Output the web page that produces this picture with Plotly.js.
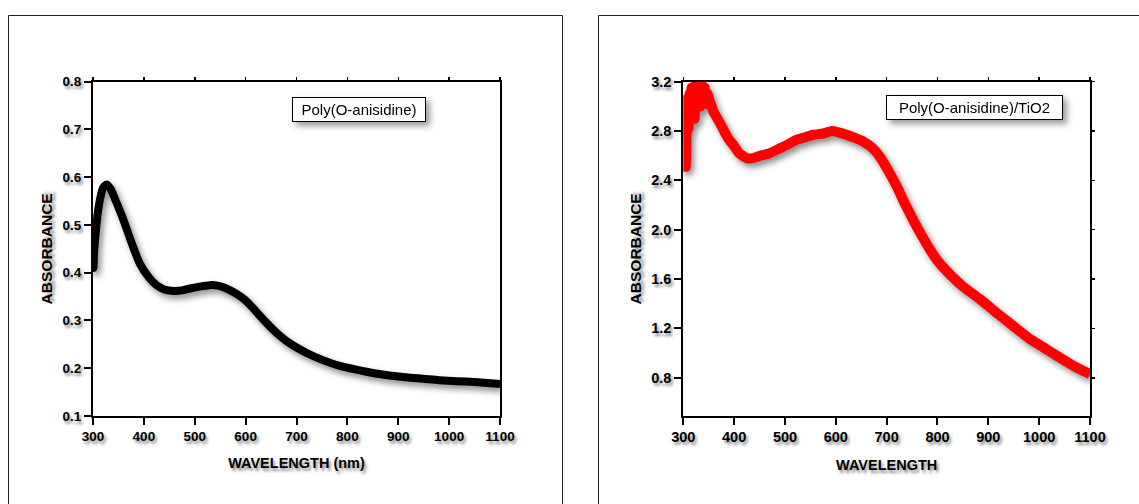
<!DOCTYPE html>
<html>
<head>
<meta charset="utf-8">
<script src="https://cdn.plot.ly/plotly-3.0.1.min.js"></script>
<style>
  html, body { margin: 0; padding: 0; background: #ffffff; }
  #chart { width: 1139px; height: 504px; }
  .js-plotly-plot .scatterlayer .trace { filter: drop-shadow(3px 4px 3px rgba(0,0,0,0.45)); }
  .js-plotly-plot .annotation { filter: drop-shadow(4px 4px 3px rgba(0,0,0,0.4)); }
</style>
</head>
<body>
<div id="chart"></div>
<script>
// ---- Data: Poly(O-anisidine) ----
const wavelengthPOA = [300, 301, 302, 305, 310, 315, 320, 327, 335, 345, 360, 375, 392, 410, 425, 440, 458, 475, 491, 510, 530, 545, 560, 575, 590, 605, 622, 640, 660, 687, 720, 752, 785, 818, 850, 883, 915, 949, 980, 1014, 1050, 1075, 1100];
const absorbancePOA = [0.42, 0.41, 0.44, 0.48, 0.53, 0.56, 0.578, 0.585, 0.575, 0.55, 0.51, 0.465, 0.419, 0.39, 0.374, 0.365, 0.362, 0.363, 0.367, 0.371, 0.374, 0.373, 0.368, 0.36, 0.35, 0.337, 0.317, 0.296, 0.275, 0.252, 0.232, 0.217, 0.205, 0.197, 0.19, 0.185, 0.181, 0.178, 0.175, 0.173, 0.171, 0.169, 0.167];

// ---- Data: Poly(O-anisidine)/TiO2 ----
const wavelengthPOAT = [300, 301, 302, 303, 304, 305, 306, 307, 308, 310, 312, 314, 316, 318, 320, 322, 324, 327, 330, 333, 336, 339, 342, 345, 348, 352, 356, 359, 370, 379, 390, 398, 410, 425, 437, 451, 470, 490, 505, 523, 540, 556, 575, 592, 605, 621, 640, 654, 670, 687, 703, 720, 736, 752, 768, 785, 800, 818, 850, 884, 915, 949, 980, 1015, 1050, 1075, 1100];
const absorbancePOAT = [2.90, 3.05, 2.78, 2.95, 2.68, 2.51, 2.72, 2.85, 3.00, 2.82, 3.10, 2.90, 3.15, 2.95, 3.12, 2.90, 3.18, 3.02, 3.15, 3.00, 3.18, 3.05, 3.15, 3.02, 3.10, 3.04, 3.00, 2.96, 2.88, 2.81, 2.73, 2.69, 2.62, 2.58, 2.58, 2.60, 2.62, 2.66, 2.69, 2.73, 2.75, 2.77, 2.78, 2.80, 2.79, 2.77, 2.74, 2.715, 2.67, 2.59, 2.48, 2.35, 2.21, 2.08, 1.96, 1.84, 1.75, 1.665, 1.54, 1.436, 1.33, 1.22, 1.12, 1.03, 0.94, 0.88, 0.83];

// ---- Tick labels ----
const xTicks = [300, 400, 500, 600, 700, 800, 900, 1000, 1100];
const yTicksLeft = [0.1, 0.2, 0.3, 0.4, 0.5, 0.6, 0.7, 0.8];
const yTicksLeftText = ['0.1', '0.2', '0.3', '0.4', '0.5', '0.6', '0.7', '0.8'];
const yTicksRight = [0.8, 1.2, 1.6, 2.0, 2.4, 2.8, 3.2];
const yTicksRightText = ['0.8', '1.2', '1.6', '2.0', '2.4', '2.8', '3.2'];

const W = 1139, H = 504;
const FAM = 'Liberation Sans, Arial, sans-serif';
const SHADOW = '2px 3px 3px rgba(0,0,0,0.45)';

function axisBase(size) {
  return {
    showgrid: false, zeroline: false, showline: true,
    linecolor: '#000', linewidth: 2,
    ticks: 'outside', ticklen: 7, tickwidth: 2, tickcolor: '#000',
    mirror: true,
    tickfont: { family: FAM, size: size, color: '#000', weight: 'bold', shadow: SHADOW },
    fixedrange: true
  };
}
function minorMirror(extra) {
  return Object.assign({
    showgrid: false, zeroline: false, showline: false, showticklabels: false,
    ticks: 'outside', ticklen: 4, tickwidth: 1.5, tickcolor: '#000', fixedrange: true
  }, extra);
}

const traces = [
  { x: wavelengthPOA, y: absorbancePOA, xaxis: 'x', yaxis: 'y', mode: 'lines',
    line: { color: '#000000', width: 8, shape: 'spline', smoothing: 0.6 }, showlegend: false, hoverinfo: 'skip' },
  { x: wavelengthPOAT, y: absorbancePOAT, xaxis: 'x2', yaxis: 'y2', mode: 'lines',
    line: { color: '#ff0000', width: 10, shape: 'spline', smoothing: 0.5 }, showlegend: false, hoverinfo: 'skip' },
  // invisible carriers so the mirror-tick axes are drawn
  { x: wavelengthPOA, y: absorbancePOA, xaxis: 'x3', yaxis: 'y', mode: 'none', showlegend: false, hoverinfo: 'skip' },
  { x: wavelengthPOAT, y: absorbancePOAT, xaxis: 'x4', yaxis: 'y2', mode: 'none', showlegend: false, hoverinfo: 'skip' },
  { x: wavelengthPOAT, y: absorbancePOAT, xaxis: 'x2', yaxis: 'y3', mode: 'none', showlegend: false, hoverinfo: 'skip' }
];

const yDom = [(H - 416) / H, (H - 81.7) / H];

const layout = {
  width: W, height: H,
  margin: { l: 0, r: 0, t: 0, b: 0 },
  paper_bgcolor: '#ffffff', plot_bgcolor: '#ffffff',
  showlegend: false,
  xaxis: Object.assign(axisBase(13.5), {
    domain: [93 / W, 500 / W], range: [300, 1100], tickvals: xTicks, anchor: 'y',
    title: { text: 'WAVELENGTH (nm)', standoff: 15, font: { family: FAM, size: 14.5, color: '#000', weight: 'bold', shadow: SHADOW } }
  }),
  yaxis: Object.assign(axisBase(13.5), {
    domain: yDom, range: [0.1, 0.8], tickvals: yTicksLeft, ticktext: yTicksLeftText, anchor: 'x',
    title: { text: 'ABSORBANCE', standoff: 6, font: { family: FAM, size: 15.5, color: '#000', weight: 'bold', shadow: SHADOW } }
  }),
  xaxis2: Object.assign(axisBase(14.5), {
    domain: [683.3 / W, 1090 / W], range: [300, 1100], tickvals: xTicks, anchor: 'y2',
    title: { text: 'WAVELENGTH', standoff: 15, font: { family: FAM, size: 14.5, color: '#000', weight: 'bold', shadow: SHADOW } }
  }),
  yaxis2: Object.assign(axisBase(14.5), {
    domain: yDom, range: [0.49, 3.2], tickvals: yTicksRight, ticktext: yTicksRightText, anchor: 'x2',
    title: { text: 'ABSORBANCE', standoff: 6, font: { family: FAM, size: 15.5, color: '#000', weight: 'bold', shadow: SHADOW } }
  }),
  xaxis3: minorMirror({ overlaying: 'x', side: 'top', anchor: 'y', range: [300, 1100], tickvals: xTicks }),
  xaxis4: minorMirror({ overlaying: 'x2', side: 'top', anchor: 'y2', range: [300, 1100], tickvals: xTicks }),
  yaxis3: minorMirror({ overlaying: 'y2', side: 'right', anchor: 'x2', range: [0.49, 3.2], tickvals: yTicksRight }),
  shapes: [
    { type: 'rect', xref: 'paper', yref: 'paper', x0: 8.5 / W, x1: 562.5 / W, y0: -0.1, y1: (H - 15.5) / H,
      line: { color: '#222', width: 1 }, fillcolor: 'rgba(0,0,0,0)', layer: 'below' },
    { type: 'rect', xref: 'paper', yref: 'paper', x0: 598.5 / W, x1: 1.1, y0: -0.1, y1: (H - 15.5) / H,
      line: { color: '#222', width: 1 }, fillcolor: 'rgba(0,0,0,0)', layer: 'below' }
  ],
  annotations: [
    { xref: 'paper', yref: 'paper', x: 358.8 / W, y: (H - 109) / H, xanchor: 'center', yanchor: 'middle',
      text: 'Poly(O-anisidine)', showarrow: false, width: 130, height: 21, borderpad: 1,
      bordercolor: '#000', borderwidth: 1, bgcolor: '#ffffff',
      font: { family: FAM, size: 15, color: '#000' } },
    { xref: 'paper', yref: 'paper', x: 974.3 / W, y: (H - 107) / H, xanchor: 'center', yanchor: 'middle',
      text: 'Poly(O-anisidine)/TiO2', showarrow: false, width: 173, height: 21, borderpad: 1,
      bordercolor: '#000', borderwidth: 1, bgcolor: '#ffffff',
      font: { family: FAM, size: 15, color: '#000' } }
  ]
};

Plotly.newPlot('chart', traces, layout, { displayModeBar: false, staticPlot: true });
</script>
</body>
</html>
